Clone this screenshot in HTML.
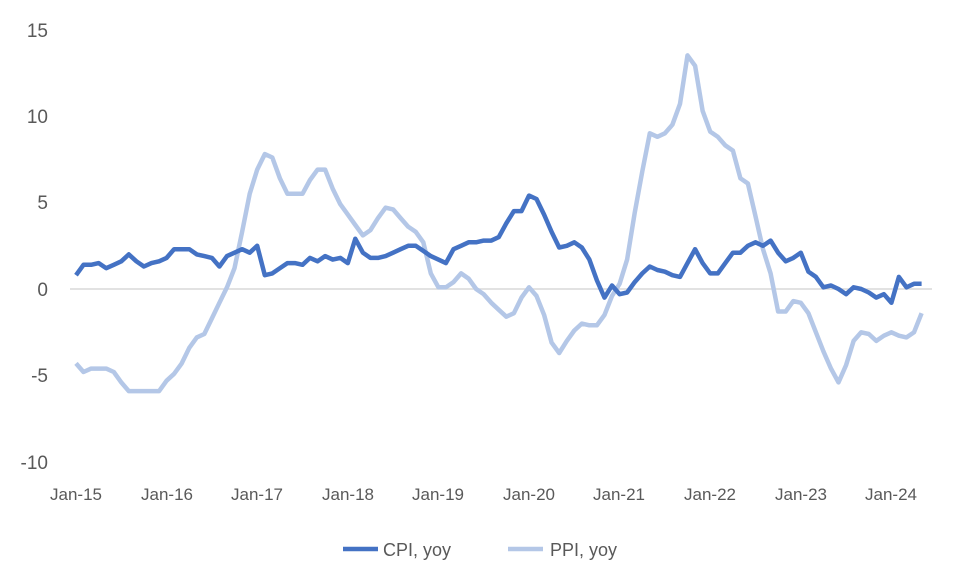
<!DOCTYPE html>
<html><head><meta charset="utf-8"><style>
html,body{margin:0;padding:0;background:#fff;}
svg{display:block;font-family:"Liberation Sans",sans-serif;}
</style></head><body>
<svg id="c" width="980" height="588" xmlns="http://www.w3.org/2000/svg">
<line x1="70" y1="289" x2="932" y2="289" stroke="#d9d9d9" stroke-width="1.5"/>
<g fill="#595959" font-size="19" text-anchor="end">
<text x="48" y="37">15</text>
<text x="48" y="123">10</text>
<text x="48" y="209">5</text>
<text x="48" y="296">0</text>
<text x="48" y="382">-5</text>
<text x="48" y="469">-10</text>
</g>
<g fill="#595959" font-size="17" text-anchor="middle">
<text x="76" y="500">Jan-15</text>
<text x="167" y="500">Jan-16</text>
<text x="257" y="500">Jan-17</text>
<text x="348" y="500">Jan-18</text>
<text x="438" y="500">Jan-19</text>
<text x="529" y="500">Jan-20</text>
<text x="619" y="500">Jan-21</text>
<text x="710" y="500">Jan-22</text>
<text x="801" y="500">Jan-23</text>
<text x="891" y="500">Jan-24</text>
</g>
<path id="ppi" fill="none" stroke="#B4C7E7" stroke-width="4.5" stroke-linejoin="round"/>
<path id="cpi" fill="none" stroke="#4472C4" stroke-width="4.5" stroke-linejoin="round"/>
<line x1="343" y1="549" x2="378" y2="549" stroke="#4472C4" stroke-width="4.5"/>
<text x="383" y="556" font-size="18" fill="#595959">CPI, yoy</text>
<line x1="508" y1="549" x2="543" y2="549" stroke="#B4C7E7" stroke-width="4.5"/>
<text x="550" y="556" font-size="18" fill="#595959">PPI, yoy</text>
</svg>
<script>
var cpi=[0.8,1.4,1.4,1.5,1.2,1.4,1.6,2.0,1.6,1.3,1.5,1.6,
1.8,2.3,2.3,2.3,2.0,1.9,1.8,1.3,1.9,2.1,2.3,2.1,
2.5,0.8,0.9,1.2,1.5,1.5,1.4,1.8,1.6,1.9,1.7,1.8,
1.5,2.9,2.1,1.8,1.8,1.9,2.1,2.3,2.5,2.5,2.2,1.9,
1.7,1.5,2.3,2.5,2.7,2.7,2.8,2.8,3.0,3.8,4.5,4.5,
5.4,5.2,4.3,3.3,2.4,2.5,2.7,2.4,1.7,0.5,-0.5,0.2,
-0.3,-0.2,0.4,0.9,1.3,1.1,1.0,0.8,0.7,1.5,2.3,1.5,
0.9,0.9,1.5,2.1,2.1,2.5,2.7,2.5,2.8,2.1,1.6,1.8,
2.1,1.0,0.7,0.1,0.2,0.0,-0.3,0.1,0.0,-0.2,-0.5,-0.3,
-0.8,0.7,0.1,0.3,0.3];
var ppi=[-4.3,-4.8,-4.6,-4.6,-4.6,-4.8,-5.4,-5.9,-5.9,-5.9,-5.9,-5.9,
-5.3,-4.9,-4.3,-3.4,-2.8,-2.6,-1.7,-0.8,0.1,1.2,3.3,5.5,
6.9,7.8,7.6,6.4,5.5,5.5,5.5,6.3,6.9,6.9,5.8,4.9,
4.3,3.7,3.1,3.4,4.1,4.7,4.6,4.1,3.6,3.3,2.7,0.9,
0.1,0.1,0.4,0.9,0.6,0.0,-0.3,-0.8,-1.2,-1.6,-1.4,-0.5,
0.1,-0.4,-1.5,-3.1,-3.7,-3.0,-2.4,-2.0,-2.1,-2.1,-1.5,-0.4,
0.3,1.7,4.4,6.8,9.0,8.8,9.0,9.5,10.7,13.5,12.9,10.3,
9.1,8.8,8.3,8.0,6.4,6.1,4.2,2.3,0.9,-1.3,-1.3,-0.7,
-0.8,-1.4,-2.5,-3.6,-4.6,-5.4,-4.4,-3.0,-2.5,-2.6,-3.0,-2.7,
-2.5,-2.7,-2.8,-2.5,-1.4];
function p(a){return a.map(function(v,i){return (i?'L':'M')+(76+i*7.55).toFixed(1)+' '+(289-v*17.3).toFixed(1);}).join(' ');}
document.getElementById('cpi').setAttribute('d',p(cpi));
document.getElementById('ppi').setAttribute('d',p(ppi));
</script>
</body></html>
